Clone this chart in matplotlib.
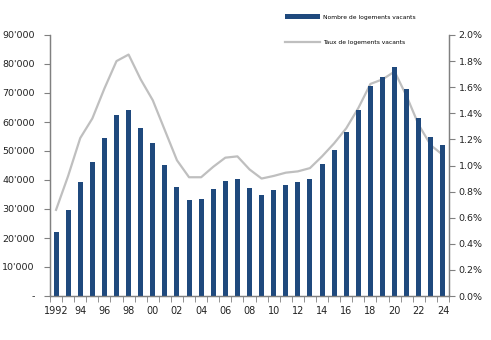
import numpy as np
import matplotlib
matplotlib.use("Agg")
import matplotlib.pyplot as plt
from matplotlib.ticker import FuncFormatter, FixedLocator

years = list(range(1992, 2025))
logements_vacants = [22000, 29700, 39300, 46200, 54500, 62400, 64100, 57900, 52800, 45200,
                     37600, 33100, 33500, 36900, 39700, 40400, 37200, 34800, 36500, 38300,
                     39300, 40400, 45500, 50300, 56500, 64100, 72400, 75500, 79000, 71400,
                     61400, 54800, 52100]
taux_vacants = [0.66, 0.92, 1.21, 1.36, 1.59, 1.80, 1.85, 1.66, 1.50, 1.27,
                1.04, 0.91, 0.91, 0.99, 1.06, 1.07, 0.97, 0.90, 0.92, 0.945,
                0.955, 0.98, 1.07, 1.17, 1.285, 1.44, 1.625, 1.66, 1.72, 1.53,
                1.31, 1.155, 1.08]
year_labels = ["1992" if y == 1992 else f"{y % 100:02d}" for y in years]

bar_color = "#1F497D"
line_color = "#BFBFBF"
axis_color = "#808080"

fig = plt.figure(figsize=(4.91, 3.40), dpi=100)
ax = fig.add_axes([50 / 491, 44 / 340, 399 / 491, 261 / 340])
ax2 = ax.twinx()

x = np.arange(len(years))
bars = ax.bar(x, logements_vacants, width=0.42, color=bar_color, zorder=2,
              label="Nombre de logements vacants")
line, = ax2.plot(x, taux_vacants, color=line_color, lw=1.6, zorder=3,
                 label="Taux de logements vacants")
ax.set_zorder(ax2.get_zorder() + 1)
ax.patch.set_visible(False)

ax.set_xlim(-0.5, len(years) - 0.5)
ax.set_ylim(0, 90000)
ax2.set_ylim(0, 2.0)

ax.set_yticks(np.arange(0, 90001, 10000))
ax.yaxis.set_major_formatter(FuncFormatter(
    lambda v, p: "-" if v == 0 else f"{int(v):,}".replace(",", "'")))
ax2.set_yticks(np.arange(0, 2.01, 0.2))
ax2.yaxis.set_major_formatter(FuncFormatter(lambda v, p: f"{v:.1f}%"))

ax.set_xticks(x[::2])
ax.set_xticklabels(year_labels[::2])
ax.xaxis.set_minor_locator(FixedLocator(np.arange(-0.5, len(years), 1.0)))
ax.tick_params(axis="x", which="major", length=0, pad=7)
ax.tick_params(axis="x", which="minor", length=4, color=axis_color, direction="out")

for a in (ax, ax2):
    a.tick_params(axis="y", length=4, color=axis_color, labelsize=6.8,
                  labelcolor="#222222", direction="out")
    a.tick_params(axis="x", labelsize=7, labelcolor="#222222")
    for s in a.spines.values():
        s.set_color(axis_color)
        s.set_linewidth(0.9)
    a.spines["top"].set_visible(False)
ax.tick_params(axis="y", pad=7)
ax2.tick_params(axis="y", pad=3)

fig.legend(handles=[bars, line], loc="upper left",
           bbox_to_anchor=(283 / 491, 1 - 12 / 340), frameon=False,
           fontsize=4.3, labelspacing=3.4, handlelength=5.8, handletextpad=0.5,
           borderaxespad=0)

fig.savefig("out.png", dpi=100)
